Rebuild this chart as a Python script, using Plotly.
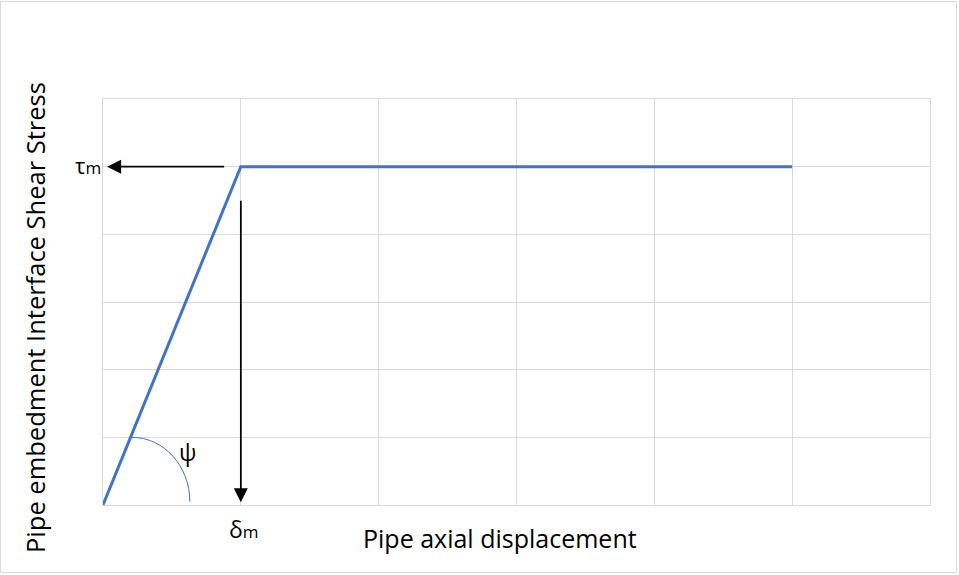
import plotly.graph_objects as go

# Data
disp = [0, 1, 5]          # pipe axial displacement (grid units)
stress = [0, 5, 5]        # interface shear stress (grid units)
x_ticks = [0, 1, 2, 3, 4, 5, 6]
y_ticks = [0, 1, 2, 3, 4, 5, 6]
delta_m = 1
tau_m = 5

W, H = 959, 575
L, R, T, B = 103, 930, 99, 505

fig = go.Figure()
fig.add_trace(go.Scatter(x=disp, y=stress, mode="lines",
                         line=dict(color="#4472C4", width=3), hoverinfo="skip"))

grid = "#d9d9d9"
fig.update_layout(
    width=W, height=H, margin=dict(l=0, r=0, t=0, b=0),
    paper_bgcolor="white", plot_bgcolor="white", showlegend=False,
    xaxis=dict(domain=[L / W, R / W], range=[0, 6], tickvals=x_ticks,
               showticklabels=False, ticks="", showgrid=True, gridcolor=grid, gridwidth=1,
               zeroline=False, showline=True, mirror=True, linecolor=grid, linewidth=1),
    yaxis=dict(domain=[(H - B) / H, (H - T) / H], range=[0, 6], tickvals=y_ticks,
               showticklabels=False, ticks="", showgrid=True, gridcolor=grid, gridwidth=1,
               zeroline=False, showline=True, mirror=True, linecolor=grid, linewidth=1),
    font=dict(family="Open Sans, Liberation Sans, sans-serif", color="black"),
)

# outer chart border
fig.add_shape(type="rect", xref="paper", yref="paper", x0=0.5 / W, x1=1 - 2.5 / W,
              y0=2.5 / H, y1=1 - 1.5 / H, line=dict(color="#d9d9d9", width=1))

# angle arc (quarter ellipse)
cx, cy, rx, ry = 0.21, 0.05, 0.42, 0.95
k = 0.5523
path = (f"M {cx},{cy + ry} C {cx + k * rx},{cy + ry} {cx + rx},{cy + k * ry} {cx + rx},{cy}")
fig.add_shape(type="path", path=path, xref="x", yref="y",
              line=dict(color="#4472C4", width=1))

# arrows
fig.add_annotation(x=0.03, y=tau_m, ax=0.89, ay=tau_m, xref="x", yref="y", axref="x", ayref="y",
                   showarrow=True, arrowhead=2, arrowsize=1.6, arrowwidth=1.75,
                   arrowcolor="black", text="")
fig.add_annotation(x=delta_m, y=0.04, ax=delta_m, ay=4.52, xref="x", yref="y", axref="x", ayref="y",
                   showarrow=True, arrowhead=2, arrowsize=1.6, arrowwidth=1.75,
                   arrowcolor="black", text="")

# labels
def label(px, py, text, size=25, angle=0):
    fig.add_annotation(x=px / W, y=1 - py / H, xref="paper", yref="paper", showarrow=False,
                       xanchor="center", yanchor="middle", text=text, textangle=angle,
                       font=dict(size=size))

label(88, 165, "τ<span style='font-size:17px'>m</span>", size=22)
label(244, 529, "δ<span style='font-size:17px'>m</span>", size=23)
label(187, 452, "ψ", size=23)
label(500, 538, "Pipe axial displacement")
label(35, 318, "Pipe embedment Interface Shear Stress", size=25.5, angle=-90)

fig.write_html("out.html", config={"displayModeBar": False},
               post_script="document.body.style.margin='0';")
